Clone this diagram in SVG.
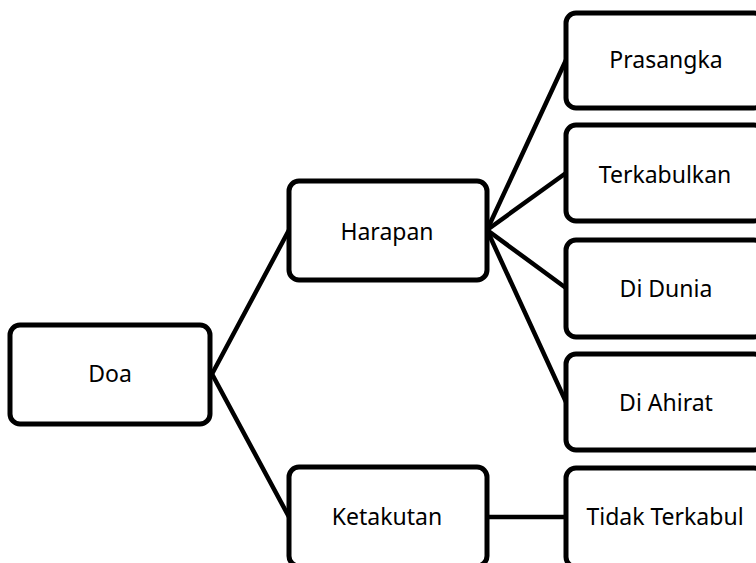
<svg xmlns="http://www.w3.org/2000/svg" width="756" height="563" viewBox="0 0 756 563">
<style>
.box{fill:#fff;stroke:#000;stroke-width:5}
.lbl{font-family:"Noto Sans","Open Sans",sans-serif;font-size:23px;fill:#000;text-anchor:middle}
.con{stroke:#000;stroke-width:4.5;fill:none;stroke-linecap:round}
</style>
<rect width="756" height="563" fill="#fff"/>
<g id="connectors">
<line class="con" x1="212" y1="374" x2="289" y2="230"/>
<line class="con" x1="212" y1="374" x2="289" y2="517"/>
<line class="con" x1="487" y1="230" x2="566" y2="60"/>
<line class="con" x1="487" y1="230" x2="566" y2="173"/>
<line class="con" x1="487" y1="230" x2="566" y2="288"/>
<line class="con" x1="487" y1="230" x2="566" y2="402"/>
<line class="con" x1="487" y1="517" x2="566" y2="517"/>
</g>
<g id="doa"><rect class="box" x="10" y="325" width="200" height="99" rx="10"/><text class="lbl" x="110" y="382">Doa</text></g>
<g id="harapan"><rect class="box" x="289" y="181" width="198" height="99" rx="10"/><text class="lbl" x="387" y="240">Harapan</text></g>
<g id="ketakutan"><rect class="box" x="289" y="467" width="198" height="99" rx="10"/><text class="lbl" x="387" y="525">Ketakutan</text></g>
<g id="prasangka"><rect class="box" x="566" y="13" width="198" height="95" rx="10"/><text class="lbl" x="666" y="68">Prasangka</text></g>
<g id="terkabulkan"><rect class="box" x="566" y="125" width="198" height="96" rx="10"/><text class="lbl" x="665" y="183">Terkabulkan</text></g>
<g id="didunia"><rect class="box" x="566" y="240" width="198" height="97" rx="10"/><text class="lbl" x="666" y="297">Di Dunia</text></g>
<g id="diahirat"><rect class="box" x="566" y="354" width="198" height="96" rx="10"/><text class="lbl" x="666" y="411">Di Ahirat</text></g>
<g id="tidakterkabul"><rect class="box" x="566" y="468" width="198" height="99" rx="10"/><text class="lbl" x="665" y="525">Tidak Terkabul</text></g>
</svg>
